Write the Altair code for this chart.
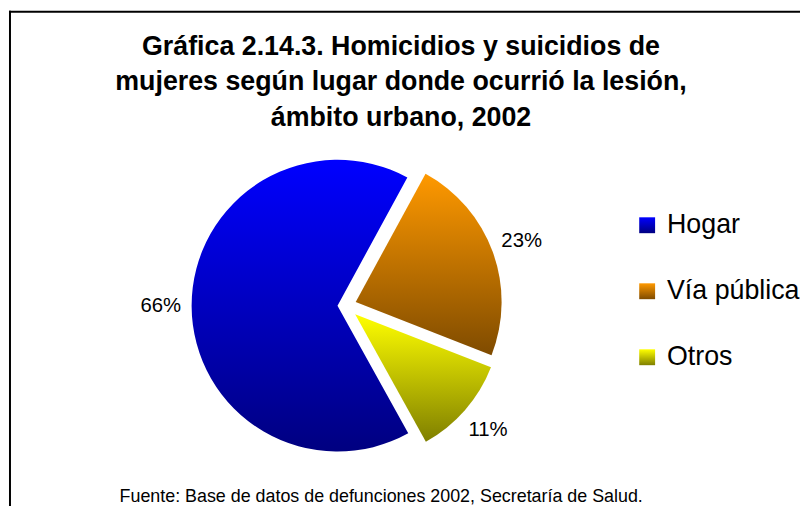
import math
import altair as alt
import pandas as pd

# ---- data ----
categories = ["Hogar", "Vía pública", "Otros"]
values = [66, 23, 11]
labels = ["66%", "23%", "11%"]
title_lines = [
    "Gráfica 2.14.3. Homicidios y suicidios de",
    "mujeres según lugar donde ocurrió la lesión,",
    "ámbito urbano, 2002",
]
source_text = ["Fuente: Base de datos de defunciones 2002, Secretaría de Salud."]

# ---- styles ----
top_colors = ["#0000FF", "#FF9900", "#FFFF00"]
bottom_colors = ["#000080", "#7F4B00", "#7F7F00"]
FONT = "Liberation Sans"
W, H = 798, 500
CX, CY = 340, 298
R = 147
LABEL_R = 178
START_DEG = 151
explode = {"Hogar": 8, "Vía pública": 11, "Otros": 13}

df = pd.DataFrame({"category": categories, "value": values, "label": labels})
df["end"] = df["value"].cumsum()
df["start"] = df["end"] - df["value"]
df["mid"] = (df["start"] + df["end"]) / 2
total = float(df["value"].sum())

a0 = math.radians(START_DEG)
theta_scale = alt.Scale(domain=[0, total], range=[a0, a0 + 2 * math.pi])
legend_scale = alt.Scale(type="point", domain=categories, range=[217, 350], padding=0)

layers = []
for i, cat in enumerate(categories):
    sub = df[df["category"] == cat]
    grad = alt.Gradient(
        gradient="linear",
        stops=[alt.GradientStop(color=top_colors[i], offset=0),
               alt.GradientStop(color=bottom_colors[i], offset=1)],
        x1=0, x2=0, y1=0, y2=1,
    )
    mid_rad = a0 + float(sub["mid"].iloc[0]) / total * 2 * math.pi
    e = explode[cat]
    cx = CX + e * math.sin(mid_rad)
    cy = CY - e * math.cos(mid_rad)

    arc = alt.Chart(sub).mark_arc(radius=R, fill=grad).encode(
        theta=alt.Theta("start:Q", scale=theta_scale),
        theta2="end:Q",
        x=alt.value(cx),
        y=alt.value(cy),
    )
    lab = alt.Chart(sub).mark_text(
        radius=LABEL_R, font=FONT, fontSize=20.5, color="#000000",
        align="center", baseline="middle",
    ).encode(
        theta=alt.Theta("mid:Q", scale=theta_scale, stack=None),
        x=alt.value(cx),
        y=alt.value(cy),
        text="label:N",
    )
    sq = alt.Chart(sub).mark_square(size=256, fill=grad, opacity=1, strokeWidth=0).encode(
        x=alt.value(644),
        y=alt.Y("category:N", scale=legend_scale, axis=None),
    )
    lt = alt.Chart(sub).mark_text(
        font=FONT, fontSize=27, color="#000000", align="left", baseline="middle",
    ).encode(
        x=alt.value(664),
        y=alt.Y("category:N", scale=legend_scale, axis=None),
        text="category:N",
    )
    layers += [arc, lab, sq, lt]

blank = alt.Data(values=[{}])
title = alt.Chart(blank).mark_text(
    font=FONT, fontSize=27, fontWeight="bold", color="#000000",
    align="center", baseline="alphabetic", lineHeight=36,
).encode(x=alt.value(396), y=alt.value(45), text=alt.value(title_lines))

source = alt.Chart(blank).mark_text(
    font=FONT, fontSize=18, color="#000000", align="center", baseline="middle",
).encode(x=alt.value(376), y=alt.value(491), text=alt.value(source_text[0]))

left_border = alt.Chart(blank).mark_rule(color="#000000", strokeWidth=2).encode(
    x=alt.value(2), y=alt.value(1), y2=alt.value(H)
)
top_border = alt.Chart(blank).mark_rule(color="#000000", strokeWidth=2).encode(
    x=alt.value(1), x2=alt.value(W), y=alt.value(2)
)

chart = alt.layer(left_border, top_border, title, *layers, source).properties(
    width=W, height=H, padding=0, autosize=alt.AutoSizeParams(type="none"),
    background="#ffffff",
).configure_view(stroke=None)

chart.save("out.html", embed_options={"renderer": "svg", "actions": False})
